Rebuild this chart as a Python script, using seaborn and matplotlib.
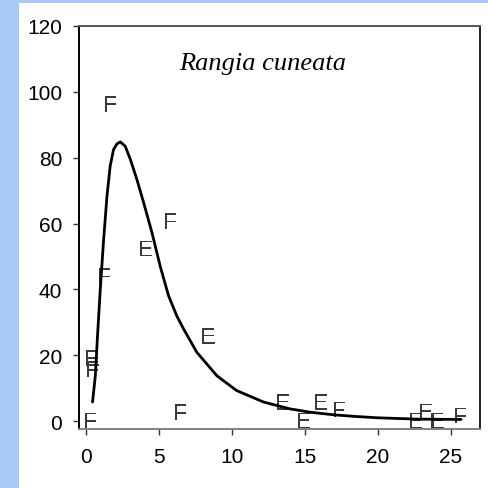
import matplotlib
matplotlib.use("Agg")
import matplotlib.pyplot as plt
import seaborn as sns
import pandas as pd
from matplotlib.patches import Rectangle

# Observed points (letter = site code)
pt_x = [0.3, 0.43, 0.43, 1.23, 1.64, 4.09, 5.76, 6.44, 8.38, 13.5, 14.94, 16.08, 17.34, 22.6, 23.28, 24.1, 25.68]
pt_y = [0.2, 19.1, 15.8, 44.1, 96.4, 52.4, 60.8, 2.7, 25.9, 5.9, 0.2, 5.9, 3.5, 0.2, 2.9, 0.2, 1.7]
pt_lab = ["F", "E", "F", "F", "F", "E", "F", "F", "E", "E", "E", "E", "F", "E", "E", "E", "F"]

# Fitted curve
curve_x = [0.43, 0.62, 0.77, 0.96, 1.19, 1.42, 1.64, 1.87, 2.1, 2.33, 2.67, 3.02, 3.47, 3.93, 4.5,
           5.07, 5.64, 6.2, 6.67, 7.58, 8.95, 10.3, 12.15, 13.98, 15.35, 17.0, 18.5, 20.0,
           22.7, 25.7]
curve_y = [5.8, 13.8, 25.9, 40.1, 55.2, 68.4, 77.5, 82.5, 84.2, 84.8, 83.5, 79.5, 73.4, 66.4, 57.3,
           47.0, 38.1, 32.0, 28.0, 20.9, 13.8, 9.3, 5.8, 3.7, 2.7, 1.9, 1.4, 1.0,
           0.6, 0.5]

title = "Rangia cuneata"
xticks = [0, 5, 10, 15, 20, 25]
yticks = [0, 20, 40, 60, 80, 100, 120]

sns.set_style("white")
plt.rcParams["font.family"] = ["Liberation Sans", "DejaVu Sans"]
plt.rcParams["mathtext.fontset"] = "custom"
plt.rcParams["mathtext.sf"] = "Liberation Sans"

W = H = 489
fig = plt.figure(figsize=(4.89, 4.89), dpi=100, facecolor="#a9c8f6")
fig.patches.append(Rectangle((19 / W, 0), 1 - 19 / W, 1 - 4 / H, transform=fig.transFigure,
                             facecolor="white", edgecolor="none", zorder=-10))
ax = fig.add_axes([79 / W, (H - 430) / H, (480 - 79) / W, (430 - 27) / H])
ax.set_zorder(1)
ax.set_facecolor("white")

curve = pd.DataFrame({"x": curve_x, "y": curve_y})
sns.lineplot(data=curve, x="x", y="y", ax=ax, color="black", linewidth=2.0, sort=False)
ax.lines[-1].set_solid_joinstyle("round")

pts = pd.DataFrame({"x": pt_x, "y": pt_y, "site": pt_lab})
sns.scatterplot(data=pts, x="x", y="y", style="site",
                markers={"F": r"$\mathsf{F}$", "E": r"$\mathsf{E}$"},
                color="#3a3a3a", s=130, linewidth=0, ax=ax, legend=False)

ax.set_xlim(-0.5, 27)
ax.set_ylim(-2.4, 120)
ax.set_xticks(xticks)
ax.set_yticks(yticks)
ax.set_xlabel("")
ax.set_ylabel("")
ax.tick_params(axis="both", direction="out", length=4, width=1, color="#333333",
               labelsize=15, labelcolor="black", pad=8, left=True, bottom=True)
ax.tick_params(axis="x", pad=9)
for side, col in [("left", "black"), ("right", "#222222"), ("top", "#555555"), ("bottom", "#808080")]:
    ax.spines[side].set_visible(True)
    ax.spines[side].set_color(col)
    ax.spines[side].set_linewidth(1.4)

ax.text(0.459, 0.908, title, transform=ax.transAxes, ha="center", va="center",
        fontsize=19, style="italic", family=["Liberation Serif", "DejaVu Serif"], color="black")

fig.savefig("out.png", dpi=100, facecolor=fig.get_facecolor())
